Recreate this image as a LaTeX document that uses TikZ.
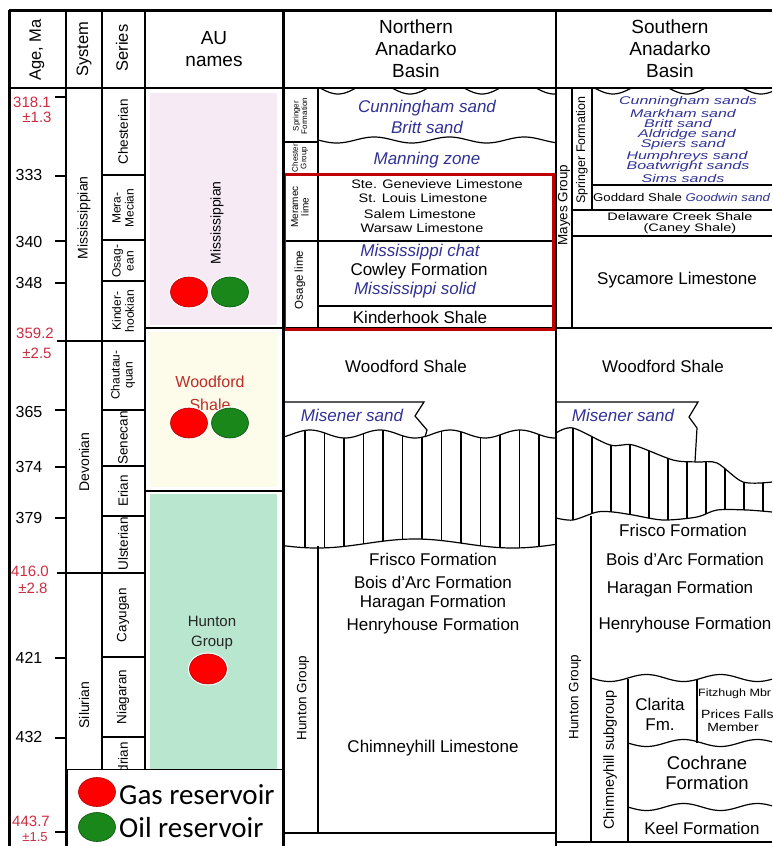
\documentclass[tikz,border=0pt]{standalone}
\usepackage{fontspec}
\setmainfont{Liberation Sans}
\newfontfamily\legendfont{Carlito}
\usepackage{graphicx}
\usetikzlibrary{shapes.geometric, positioning}
\definecolor{agered}{RGB}{205,45,65}
\definecolor{sandblue}{RGB}{50,50,150}
\definecolor{boxred}{RGB}{192,0,0}
\definecolor{aupink}{RGB}{246,234,244}
\definecolor{auyellow}{RGB}{253,251,234}
\definecolor{augreen}{RGB}{185,230,207}
\definecolor{woodred}{RGB}{190,45,40}
\definecolor{gasred}{RGB}{255,0,0}
\definecolor{oilgreen}{RGB}{25,135,25}
\newcommand{\fs}[1]{\fontsize{#1}{#1}\selectfont}
\newcommand{\squash}[2]{\scalebox{1}[#1]{#2}}

\begin{document}
\begin{tikzpicture}[x=1pt, y=-1pt,
  frame/.style={line width=3pt},
  col/.style={line width=1.5pt},
  thin/.style={line width=1.2pt},
  hdr/.style={font=\fontsize{19}{22}\selectfont, align=center, inner sep=0pt},
  vhdr/.style={font=\fs{16.5}, rotate=90, inner sep=0pt},
  agelbl/.style={font=\fs{16}, inner sep=0pt},
  redage/.style={font=\fs{15}, text=agered, inner sep=0pt},
  syslbl/.style={font=\fs{14}, rotate=90, inner sep=0pt},
  serlbl/.style={font=\fs{13.5}, rotate=90, inner sep=0pt},
  serlbltwo/.style={font=\fontsize{12}{13}\selectfont, rotate=90, inner sep=0pt, align=center},
  fm/.style={font=\fs{17}, inner sep=0pt},
  fmsmall/.style={font=\fs{14.5}, inner sep=0pt},
  sand/.style={font=\fs{17}\itshape, text=sandblue, inner sep=0pt},
  grp/.style={font=\fs{13.5}, rotate=90, inner sep=0pt},
  tinygrp/.style={font=\fontsize{8}{8.5}\selectfont, rotate=90, inner sep=0pt, align=center},
  gas/.style={ellipse, draw=red!70!black, fill=gasred, line width=0.6pt,
    minimum width=37pt, minimum height=30pt, preaction={draw=white, line width=3pt}},
  oil/.style={gas, draw=oilgreen!60!black, fill=oilgreen},
  tick/.style={line width=1.2pt}
]
  \useasboundingbox (0,0) rectangle (772,846);
  \fill[white] (0,0) rectangle (772,846);

  % AU fills
  \fill[aupink] (150,93) rectangle (277,325);
  \fill[auyellow] (150,332) rectangle (277,487);
  \fill[augreen] (150,494) rectangle (277,846);
  \draw[thin] (145,328) -- (283,328);
  \draw[thin] (145,491) -- (283,491);

  % Grid
  \draw[frame] (9,10) -- (772,10);
  \draw[frame] (9,10) -- (9,846);
  \draw[line width=2pt] (9,88) -- (772,88);
  \foreach \cx in {66,102,145} \draw[col] (\cx,10) -- (\cx,846);
  \draw[col] (556,10) -- (556,846);

  % Headers
  \node[vhdr] (hage) at (37,50) {Age, Ma};
  \node[vhdr] (hsys) at (84,49) {System};
  \node[vhdr] (hser) at (122,48) {Series};
  \node[hdr] (hau) at (214,49) {AU\\names};
  \node[hdr] (hnorth) at (416,49) {Northern\\Anadarko\\Basin};
  \node[hdr] (hsouth) at (670,49) {Southern\\Anadarko\\Basin};

  % Ages
  \foreach \ty in {97,176,241,283,410,467,518,658,738,832}
    \draw[tick] (55,\ty) -- (66,\ty);
  \draw[tick] (57,341) -- (145,341);
  \draw[tick] (57,573) -- (145,573);
  \foreach \ty/\age in {175/333, 242/340, 283/348, 412/365, 467/374, 518/379, 658/421, 737/432}
    \node[agelbl] (age\age) at (29,\ty) {\age};
  \node[redage] (r318) at (32,102) {318.1};
  \node[redage] (r318e) at (37,117) {±1.3};
  \node[redage] (r359) at (35,333) {359.2};
  \node[redage] (r359e) at (37,353) {±2.5};
  \node[redage] (r416) at (30,571) {416.0};
  \node[redage] (r416e) at (33,588) {±2.8};
  \node[redage] (r443) at (31,821) {443.7};
  \node[redage, font=\fs{13}] (r443e) at (35,837) {±1.5};

  % Systems
  \node[syslbl] (mis) at (84,218) {Mississippian};
  \node[syslbl] (dev) at (84,462) {Devonian};
  \node[syslbl] (sil) at (84,705) {Silurian};

  % Series
  \foreach \ty in {175,240,281,410,466,516,657,737}
    \draw[tick] (102,\ty) -- (145,\ty);
  \node[serlbl] (chest) at (123,132) {Chesterian};
  \node[serlbltwo] (mera) at (123,208) {Mera-\\Mecian};
  \node[serlbltwo] (osag) at (123,261) {Osag-\\ean};
  \node[serlbltwo] (kind) at (123,311) {Kinder-\\hookian};
  \node[serlbltwo] (chau) at (123,375) {Chautau-\\quan};
  \node[serlbl] (sene) at (123,438) {Senecan};
  \node[serlbl] (erian) at (123,491) {Erian};
  \node[serlbl] (ulst) at (123,544) {Ulsterian};
  \node[serlbl] (cayu) at (123,615) {Cayugan};
  \node[serlbl] (niag) at (123,697) {Niagaran};
  \node[serlbl] (alex) at (123,778) {Alexandrian};

  % AU names
  \node[syslbl] (aumis) at (217,223) {Mississippian};
  \node[gas] (gas1) at (189,292) {};
  \node[oil] (oil1) at (230,292) {};
  \node[fm, text=woodred, align=center, font=\fontsize{16}{23}\selectfont] (auwood) at (210,393) {Woodford\\Shale};
  \node[gas] (gas2) at (189,423) {};
  \node[oil] (oil2) at (230,423) {};
  \node[align=center, inner sep=0pt, text=black!85, font=\fontsize{15}{20}\selectfont] (auhun) at (212,633) {Hunton\\Group};
  \node[gas] (gas3) at (208,669) {};

  % Northern basin, Mississippian
  \draw[thin] (318,88) -- (318,328);
  \draw[thin] (283,142) -- (318,142);
  \draw[thin] (283,241) -- (556,241);
  \draw[thin] (318,306) -- (556,306);
  \draw[thin] (283,328) -- (772,328);
  \draw[thin] plot[domain=318:556, samples=120] (\x, {88+6*max(0,cos(5*(\x-338)))});
  \draw[thin] plot[domain=318:556, samples=120] (\x, {140+3*sin(4.8*(\x-318))});
  \node[tinygrp] (nspr) at (300,116) {Springer\\Formation};
  \node[tinygrp] (nchest) at (300,158) {Chester\\Group};
  \node[tinygrp, font=\fontsize{10}{10.5}\selectfont] (nmer) at (300,207) {Meramec\\lime};
  \node[grp, font=\fs{11.5}] (nosage) at (300,280) {Osage lime};
  \node[sand] (cunn) at (427,108) {Cunningham sand};
  \node[sand] (britt) at (427,127) {Britt sand};
  \node[sand] (mann) at (427,160) {Manning zone};
  \node[fmsmall] (steg) at (437,184) {\squash{0.85}{Ste. Genevieve Limestone}};
  \node[fmsmall] (stl) at (423,198) {\squash{0.85}{St. Louis Limestone}};
  \node[fmsmall] (salem) at (420,214) {\squash{0.85}{Salem Limestone}};
  \node[fmsmall] (warsaw) at (422,228) {\squash{0.85}{Warsaw Limestone}};
  \node[sand] (mchat) at (420,252) {Mississippi chat};
  \node[fm] (cowley) at (419,271) {Cowley Formation};
  \node[sand] (msolid) at (415,290) {Mississippi solid};
  \node[fm] (kinder) at (420,317) {Kinderhook Shale};

  % Southern basin, Mississippian
  \draw[thin] (572,88) -- (572,328);
  \draw[thin] (592,88) -- (592,210);
  \draw[thin] plot[domain=592:772, samples=90] (\x, {88+6*max(0,cos(4.865*(\x-613)))});
  \draw[thin] (592,185) -- (772,185);
  \draw[thin] (572,210) -- (772,210);
  \draw[thin] (572,236) -- (772,236);
  \node[grp] (smayes) at (564,205) {Mayes Group};
  \node[grp, font=\fs{12.5}] (sspr) at (582,150) {Springer Formation};
  \foreach \ty/\sn/\sx in {102/Cunningham sands/688, 113/Markham sand/683,
      123/Britt sand/678, 135/Aldridge sand/687, 145/Spiers sand/683,
      157/Humphreys sand/687, 167/Boatwright sands/688, 178/Sims sands/683}
    \node[sand, font=\fs{16}\itshape] (sand\ty) at (\sx,\ty) {\squash{0.7}{\sn}};
  \node[fm, font=\fs{13.2}, anchor=west] (godd) at (593,197)
    {\squash{0.85}{Goddard Shale \textcolor{sandblue}{\itshape Goodwin sand}}};
  \node[fm, font=\fs{14.5}] (dela) at (680,217) {\squash{0.75}{Delaware Creek Shale}};
  \node[fm, font=\fs{14.5}] (caney) at (690,229) {\squash{0.75}{(Caney Shale)}};
  \node[fm] (syc) at (677,280) {Sycamore Limestone};

  % Northern basin, Devonian
  \node[fm] (nwood) at (406,366) {Woodford Shale};
  \draw[thin] (283,402) -- (424,402) -- (415,416) -- (427,430) -- (425,437);
  \node[sand] (nmis) at (352,415) {Misener sand};
  \begin{scope}
    \clip plot[domain=283:556, samples=100] (\x, {434-4*cos(5.143*(\x-310))})
      -- plot[domain=556:283, samples=100] (\x, {543.5+4.5*cos(1.837*(\x-317))}) -- cycle;
    \foreach \hx in {0,...,12}
      \draw[thin] (305+19.5*\hx,420) -- (305+19.5*\hx,560);
  \end{scope}
  \draw[thin] plot[domain=283:556, samples=100] (\x, {434-4*cos(5.143*(\x-310))});
  \draw[thin] plot[domain=283:556, samples=100] (\x, {543.5+4.5*cos(1.837*(\x-317))});

  % Southern basin, Devonian
  \node[fm] (swood) at (663,366) {Woodford Shale};
  \draw[thin] (556,402) -- (698,402) -- (689,417) -- (697,428) -- (695,462);
  \node[sand] (smis) at (623,415) {Misener sand};
  \begin{scope}
    \clip plot[smooth] coordinates {(556,433) (573,428) (610,445) (633,445) (673,460)
        (697,462) (717,463) (743,482) (772,482)}
      -- plot[smooth] coordinates {(772,512) (747,510) (717,510) (697,517) (663,520)
        (633,515) (613,512) (597,512) (573,520) (556,518)} -- cycle;
    \foreach \hx in {0,...,10}
      \draw[thin] (573+19*\hx,420) -- (573+19*\hx,530);
  \end{scope}
  \draw[thin] plot[smooth] coordinates {(556,433) (573,428) (610,445) (633,445) (673,460)
      (697,462) (717,463) (743,482) (772,482)};
  \draw[thin] plot[smooth] coordinates {(556,518) (573,520) (597,512) (613,512) (633,515)
      (663,520) (697,517) (717,510) (747,510) (772,512)};

  % Northern basin, Hunton
  \draw[thin] (318,546) -- (318,833);
  \draw[thin] (283,833) -- (556,833);
  \node[grp] (nhun) at (303,698) {Hunton Group};
  \node[fm] (nfris) at (433,559) {Frisco Formation};
  \node[fm] (nbois) at (433,582) {Bois d'Arc Formation};
  \node[fm] (nharag) at (433,603) {Haragan Formation};
  \node[fm] (nhenry) at (433,626) {Henryhouse Formation};
  \node[fm] (nchim) at (433,748) {Chimneyhill Limestone};

  % Southern basin, Hunton
  \draw[thin] (591,516) -- (591,842);
  \draw[thin] (556,842) -- (772,842);
  \node[grp] (shun) at (575,697) {Hunton Group};
  \node[fm] (sfris) at (683,530) {Frisco Formation};
  \node[fm] (sbois) at (685,559) {Bois d'Arc Formation};
  \node[fm] (sharag) at (680,589) {Haragan Formation};
  \node[fm] (shenry) at (685,625) {Henryhouse Formation};
  \draw[thin] plot[domain=591:772, samples=80] (\x, {678+3.5*sin(4.865*(\x-591))});
  \draw[thin] (628,679) -- (628,842);
  \draw[thin] (697,680) -- (697,743);
  \draw[thin] plot[domain=628:772, samples=60] (\x, {743+3.5*sin(4.865*(\x-628))});
  \draw[thin] plot[domain=628:772, samples=60] (\x, {807+3.5*sin(4.865*(\x-628))});
  \node[grp, font=\fs{14.5}] (schim) at (610,760) {Chimneyhill subgroup};
  \node[fm, align=center, font=\fontsize{17}{20}\selectfont] (clar) at (660,714) {Clarita\\Fm.};
  \node[fm, font=\fs{12.5}, anchor=west] (fitz) at (698,694) {\squash{0.85}{Fitzhugh Mbr}};
  \node[fm, font=\fs{14}, anchor=west] (prices) at (701,714) {\squash{0.85}{Prices Falls}};
  \node[fm, font=\fs{14}] (member) at (733,727) {\squash{0.85}{Member}};
  \node[fm, align=center, font=\fontsize{18.5}{20}\selectfont] (coch) at (707,773) {Cochrane\\Formation};
  \node[fm] (keel) at (702,828) {Keel Formation};

  % Red box
  \draw[boxred, line width=3pt] (284,174) rectangle (553,329);

  % Legend
  \draw[line width=1pt, fill=white] (67,769) rectangle (283,852);
  \node[gas, minimum height=29pt] (lgas) at (97,792) {};
  \node[oil, minimum height=29pt] (loil) at (97,827) {};
  \node[font=\legendfont\fs{29}, anchor=west, inner sep=0pt] (lgast) at (119,795) {Gas reservoir};
  \node[font=\legendfont\fs{29}, anchor=west, inner sep=0pt] (loilt) at (119,828) {Oil reservoir};

  \draw[frame] (283,10) -- (283,846);
\end{tikzpicture}
\end{document}
